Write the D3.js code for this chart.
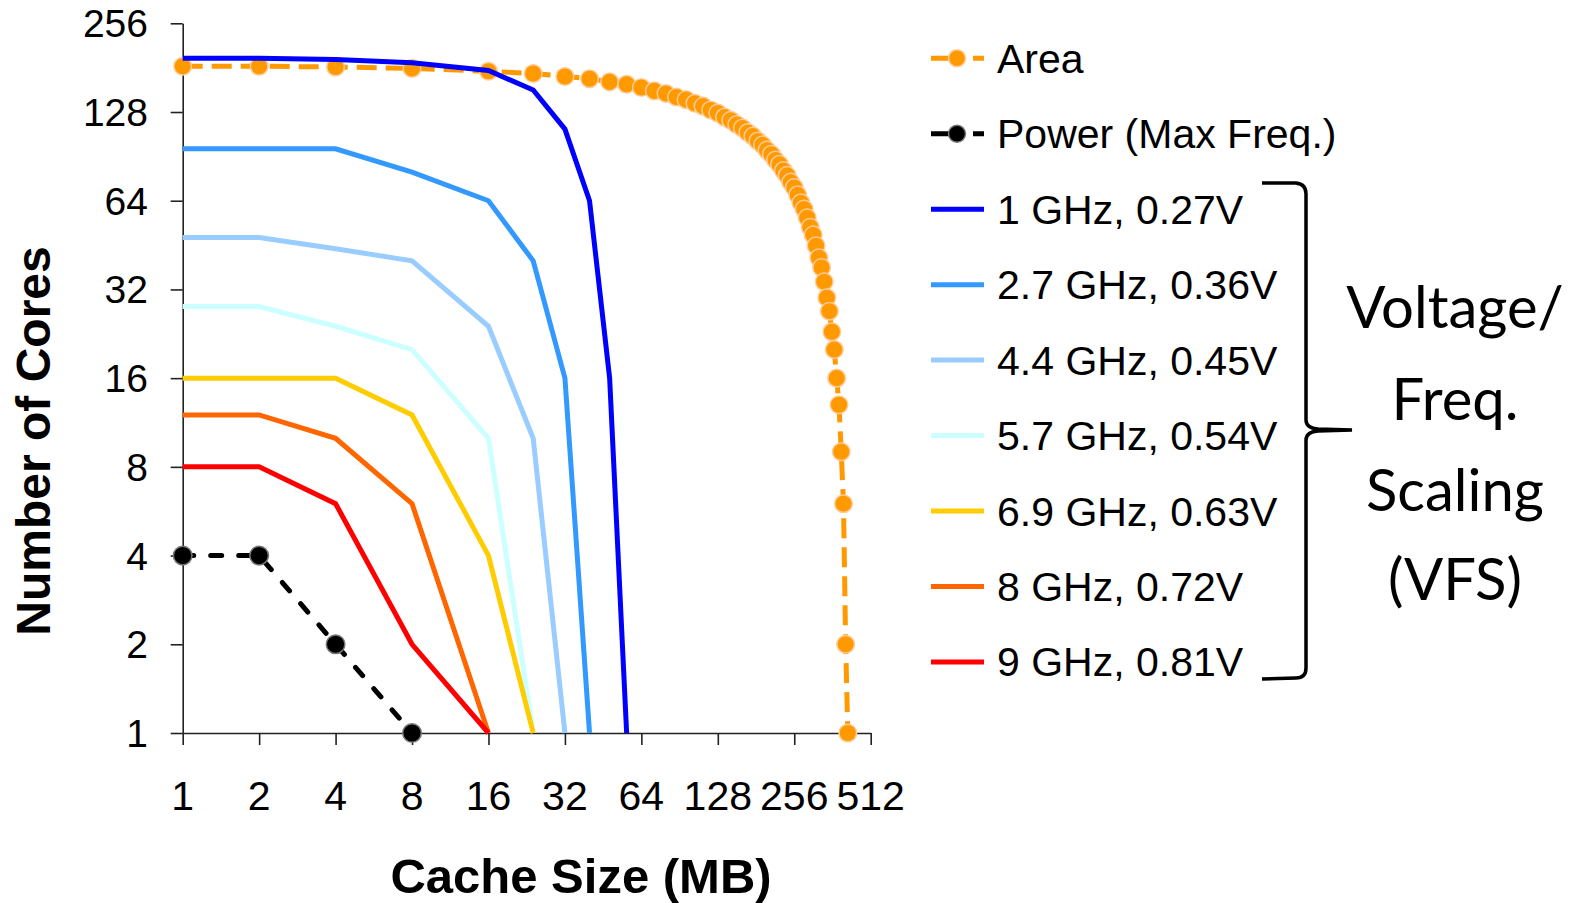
<!DOCTYPE html>
<html>
<head>
<meta charset="utf-8">
<script src="https://cdn.jsdelivr.net/npm/d3@7"></script>
<style>
  html, body { margin: 0; padding: 0; background: #fff; }
  svg { display: block; }
</style>
</head>
<body>
<svg id="chart" width="1575" height="903"></svg>
<script>
// ---------------- DATA ----------------
const xTickValues = [1, 2, 4, 8, 16, 32, 64, 128, 256, 512];
const yTickValues = [1, 2, 4, 8, 16, 32, 64, 128, 256];

const areaCache = [1, 2, 4, 8, 16, 24, 32, 40, 48, 56, 64, 72, 80, 88, 96, 104, 112, 120, 128, 136, 144, 152, 160, 168, 176, 184, 192, 200, 208, 216, 224, 232, 240, 248, 256, 264, 272, 280, 288, 296, 304, 312, 320, 328, 336, 344, 352, 360, 368, 376, 384, 392, 400, 408, 416];
const areaCores = [183, 183, 182, 180, 176, 173, 169, 166, 162, 159, 155, 151, 148, 144, 141, 137, 134, 130, 127, 123, 120, 116, 113, 109, 106, 102, 99, 95, 92, 88, 85, 81, 78, 74, 71, 67, 63, 60, 56, 52, 49, 45, 41, 38, 34, 30, 27, 23, 20, 16, 13, 9, 6, 2, 1];

const powerCache = [1, 2, 4, 8];
const powerCores = [4, 4, 2, 1];

const vfsLabels = ["1 GHz, 0.27V", "2.7 GHz, 0.36V", "4.4 GHz, 0.45V", "5.7 GHz, 0.54V", "6.9 GHz, 0.63V", "8 GHz, 0.72V", "9 GHz, 0.81V"];
const vfsColors = ["#0000FF", "#3399FF", "#99CCFF", "#CCFFFF", "#FFCC00", "#FF6600", "#FF0000"];
const vfs1Cache = [1, 2, 4, 8, 16, 24, 32, 40, 48, 56];
const vfs1Cores = [195, 195, 193, 188, 177, 152, 112, 64, 16, 1];
const vfs2Cache = [1, 2, 4, 8, 16, 24, 32, 40];
const vfs2Cores = [96, 96, 96, 80, 64, 40, 16, 1];
const vfs3Cache = [1, 2, 4, 8, 16, 24, 32];
const vfs3Cores = [48, 48, 44, 40, 24, 10, 1];
const vfs4Cache = [1, 2, 4, 8, 16, 24];
const vfs4Cores = [28, 28, 24, 20, 10, 1];
const vfs5Cache = [1, 2, 4, 8, 16, 24];
const vfs5Cores = [16, 16, 16, 12, 4, 1];
const vfs6Cache = [1, 2, 4, 8, 16];
const vfs6Cores = [12, 12, 10, 6, 1];
const vfs7Cache = [1, 2, 4, 8, 16];
const vfs7Cores = [8, 8, 6, 2, 1];

const xTitle = "Cache Size (MB)";
const yTitle = "Number of Cores";
const areaLabel = "Area";
const powerLabel = "Power (Max Freq.)";
const braceLines = ["Voltage/", "Freq.", "Scaling", "(VFS)"];

// ---------------- CHART ----------------
const svg = d3.select("#chart");
const FONT = "'Liberation Sans', Arial, Helvetica, sans-serif";

const x = d3.scaleLog().base(2).domain([1, 512]).range([182.7, 870.7]);
const y = d3.scaleLog().base(2).domain([1, 256]).range([733, 23.3]);

// Y axis
const yAxis = svg.append("g").attr("transform", `translate(${x(1)},0)`)
  .call(d3.axisLeft(y).tickValues(yTickValues).tickSize(12).tickSizeOuter(0).tickFormat(""));
yAxis.selectAll("path, line").attr("stroke", "#222").attr("stroke-width", 1.6);

// X axis
const xAxis = svg.append("g").attr("transform", `translate(0,${y(1)})`)
  .call(d3.axisBottom(x).tickValues(xTickValues).tickSize(12).tickSizeOuter(0).tickFormat(""));
xAxis.selectAll("path, line").attr("stroke", "#222").attr("stroke-width", 1.6);

// Tick labels
svg.append("g").selectAll("text").data(yTickValues).join("text")
  .attr("x", 148).attr("y", d => y(d) + 14)
  .attr("text-anchor", "end")
  .attr("font-family", FONT).attr("font-size", 39).attr("fill", "#000")
  .text(d => d);

svg.append("g").selectAll("text").data(xTickValues).join("text")
  .attr("x", d => x(d)).attr("y", 810)
  .attr("text-anchor", "middle")
  .attr("font-family", FONT).attr("font-size", 41).attr("fill", "#000")
  .text(d => d);

// Axis titles
svg.append("text")
  .attr("x", 581).attr("y", 893)
  .attr("text-anchor", "middle")
  .attr("font-family", FONT).attr("font-weight", "bold").attr("font-size", 49)
  .text(xTitle);

svg.append("text")
  .attr("transform", "translate(50,441) rotate(-90)")
  .attr("text-anchor", "middle")
  .attr("font-family", FONT).attr("font-weight", "bold").attr("font-size", 48)
  .text(yTitle);

const line = d3.line().x(d => x(d[0])).y(d => y(d[1]));

// Area series
const areaData = d3.zip(areaCache, areaCores);
svg.append("path").datum(areaData)
  .attr("d", line).attr("fill", "none")
  .attr("stroke", "#FF9900").attr("stroke-width", 5)
  .attr("stroke-dasharray", "20,9");
svg.append("g").selectAll("circle").data(areaData).join("circle")
  .attr("cx", d => x(d[0])).attr("cy", d => y(d[1])).attr("r", 8.8)
  .attr("fill", "#FF9900").attr("stroke", "#FFCC99").attr("stroke-width", 1.5);

// Power series
const powerData = d3.zip(powerCache, powerCores);
svg.append("path").datum(powerData)
  .attr("d", line).attr("fill", "none")
  .attr("stroke", "#000").attr("stroke-width", 5)
  .attr("stroke-linecap", "round")
  .attr("stroke-dasharray", "11,17");
svg.append("g").selectAll("circle").data(powerData).join("circle")
  .attr("cx", d => x(d[0])).attr("cy", d => y(d[1])).attr("r", 9.3)
  .attr("fill", "#000").attr("stroke", "#777").attr("stroke-width", 1.5);

// VFS series
const vfsCaches = [vfs1Cache, vfs2Cache, vfs3Cache, vfs4Cache, vfs5Cache, vfs6Cache, vfs7Cache];
const vfsCoresAll = [vfs1Cores, vfs2Cores, vfs3Cores, vfs4Cores, vfs5Cores, vfs6Cores, vfs7Cores];
vfsCaches.forEach((c, i) => {
  svg.append("path").datum(d3.zip(c, vfsCoresAll[i]))
    .attr("d", line).attr("fill", "none")
    .attr("stroke", vfsColors[i]).attr("stroke-width", 5)
    .attr("stroke-linejoin", "miter");
});

// Legend
const legY0 = 58.3, legStep = 75.45;
const lx0 = 931, lx1 = 984, ltx = 997;
const leg = svg.append("g");
// Area legend
leg.append("line").attr("x1", lx0).attr("x2", lx1).attr("y1", legY0).attr("y2", legY0)
  .attr("stroke", "#FF9900").attr("stroke-width", 5).attr("stroke-dasharray", "19,8,7,8");
leg.append("circle").attr("cx", 957).attr("cy", legY0).attr("r", 8.5)
  .attr("fill", "#FF9900").attr("stroke", "#FFCC99").attr("stroke-width", 1.5);
leg.append("text").attr("x", ltx).attr("y", legY0 + 14.5)
  .attr("font-family", FONT).attr("font-size", 41).text(areaLabel);
// Power legend
const py = legY0 + legStep;
leg.append("line").attr("x1", lx0).attr("x2", lx1).attr("y1", py).attr("y2", py)
  .attr("stroke", "#000").attr("stroke-width", 5).attr("stroke-dasharray", "19,8,7,8");
leg.append("circle").attr("cx", 957).attr("cy", py).attr("r", 8.5)
  .attr("fill", "#000").attr("stroke", "#777").attr("stroke-width", 1.5);
leg.append("text").attr("x", ltx).attr("y", py + 14.5)
  .attr("font-family", FONT).attr("font-size", 41).text(powerLabel);
// VFS legend
vfsLabels.forEach((lab, i) => {
  const yy = legY0 + legStep * (i + 2);
  leg.append("line").attr("x1", lx0).attr("x2", lx1).attr("y1", yy).attr("y2", yy)
    .attr("stroke", vfsColors[i]).attr("stroke-width", 5);
  leg.append("text").attr("x", ltx).attr("y", yy + 14.5)
    .attr("font-family", FONT).attr("font-size", 41).text(lab);
});

// Brace
svg.append("path")
  .attr("d", "M1262,183 L1296,183 Q1306,184 1306,194 L1306,420 Q1306,428 1318,429 L1352,430 L1318,431 Q1306,432 1306,440 L1306,668 Q1306,678 1296,678 L1262,679")
  .attr("fill", "none").attr("stroke", "#000").attr("stroke-width", 3.5);

// Brace text
const braceY = [328, 420, 511, 600];
svg.append("g").selectAll("text").data(braceLines).join("text")
  .attr("x", 1455).attr("y", (d, i) => braceY[i])
  .attr("text-anchor", "middle")
  .attr("font-family", "Lato, 'Open Sans', sans-serif").attr("font-size", 58)
  .text(d => d);
</script>
</body>
</html>
